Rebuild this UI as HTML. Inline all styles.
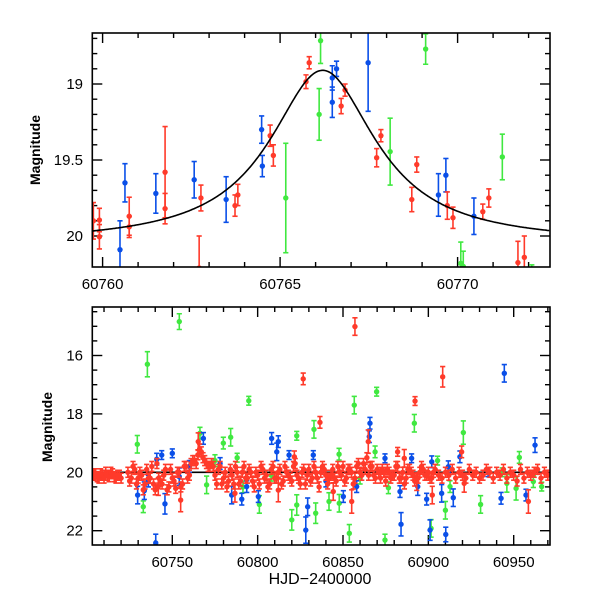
<!DOCTYPE html>
<html><head><meta charset="utf-8">
<style>
html,body{margin:0;padding:0;background:#fff;}
svg{display:block;font-family:"Liberation Sans",sans-serif;}
</style></head>
<body>
<svg id="chart" width="600" height="600" viewBox="0 0 600 600" xmlns="http://www.w3.org/2000/svg">
<defs>
<clipPath id="clipTop"><rect x="92.3" y="33" width="457.7" height="234"/></clipPath>
<clipPath id="clipBot"><rect x="92.3" y="307" width="457.7" height="238"/></clipPath>
</defs>
<g id="top"></g>
<g id="bot"></g>
</svg>
<script>
// ---------- TOP PANEL DATA ----------
const topBlueT=[60760.49,60760.63,60761.50,60762.58,60763.48,60764.48,60764.50,60766.47,60766.47,60766.59,60767.48,60769.46,60769.67,60770.46];
const topBlueM=[20.09,19.65,19.72,19.63,19.76,19.30,19.54,18.96,19.12,18.90,18.86,19.73,19.60,19.87];
const topBlueE=[0.19,0.126,0.13,0.12,0.15,0.09,0.07,0.08,0.1,0.05,0.32,0.14,0.11,0.12];
const topRedT=[60759.74,60759.91,60759.91,60760.75,60760.75,60761.76,60761.76,60762.72,60762.77,60763.73,60763.81,60764.72,60764.81,60765.73,60765.82,60766.72,60766.83,60767.72,60767.84,60768.71,60768.85,60769.71,60769.87,60770.71,60770.88,60771.70,60771.88];
const topRedM=[19.90,19.895,20.005,19.87,19.94,19.58,19.82,20.21,19.75,19.80,19.73,19.34,19.47,18.985,18.86,19.145,19.04,19.485,19.34,19.76,19.53,19.80,19.88,19.84,19.75,20.175,20.14];
const topRedE=[0.12,0.077,0.08,0.125,0.07,0.3,0.1,0.21,0.085,0.07,0.07,0.07,0.07,0.045,0.04,0.05,0.04,0.06,0.04,0.08,0.05,0.09,0.07,0.05,0.06,0.14,0.14];
const topGreenT=[60765.16,60766.10,60766.14,60768.10,60769.10,60770.09,60770.16,60771.26,60772.09];
const topGreenM=[19.75,19.20,18.715,19.445,18.77,20.18,20.20,19.48,20.22];
const topGreenE=[0.36,0.17,0.15,0.22,0.1,0.14,0.1,0.15,0.03];
const topXTicks=[60760,60765,60770];
const topYTicks=["19","19.5","20"];
// model fit parameters
const fitBase=20.05, fitAmp=1.14, fitT0=60766.2, fitW=1.82;

// ---------- BOTTOM PANEL DATA ----------
const botGreenT=[60754.1,60735.4,60794.8,60729.5,60784.2,60766.2,60779.9,60770.1,60733.0,60791.4,60775,60788,60856.6,60869.7,60822.9,60833.0,60820.0,60822.9,60834.0,60841.8,60847.8,60853.7,60874.6,60876.6,60801,60847.7,60868.8,60891.8,60920.5,60930.6,60910.0,60901.6,60912.7,60953.3,60951.4,60961.5,60966.4,60946.0,60905.4,60943.3,60860,60808];
const botGreenM=[14.84,16.30,17.55,19.04,18.80,18.66,19.0,20.43,21.18,20.5,19.6,19.5,17.70,17.24,18.75,18.53,21.63,21.12,21.40,21.0,21.06,22.09,22.32,20.53,21.1,19.38,19.3,18.32,18.64,21.1,21.3,21.92,20.49,19.49,20.55,20.32,20.49,20.38,19.6,20.0,20.2,20.1];
const botGreenE=[0.27,0.43,0.15,0.3,0.3,0.2,0.2,0.3,0.2,0.2,0.2,0.15,0.3,0.15,0.15,0.3,0.35,0.35,0.35,0.3,0.3,0.3,0.2,0.2,0.3,0.2,0.2,0.3,0.4,0.3,0.3,0.3,0.2,0.2,0.4,0.2,0.15,0.3,0.15,0.15,0.2,0.2];
const botBlueT=[60729.7,60733.6,60745.7,60740.3,60743.8,60750,60740.9,60768.2,60784.8,60790.7,60793.6,60754.1,60760,60778,60736,60808.2,60812.1,60811.2,60865.8,60865.4,60828.2,60829.3,60884.0,60883.4,60850.2,60858.0,60800.4,60818.4,60832.6,60874.6,60840,60944.5,60962.5,60901.0,60910.2,60899.0,60907.8,60914.6,60942.6,60957.2,60893.8,60918.5,60890.2,60911.7,60902.0,60935];
const botBlueM=[20.78,20.63,21.08,22.42,19.41,19.35,19.55,18.84,20.78,20.92,20.49,20.15,19.8,19.7,20.3,18.84,18.95,19.3,18.32,18.78,21.98,21.18,21.78,20.66,20.83,20.49,20.83,19.41,19.41,19.52,20.3,16.61,19.07,21.98,22.13,20.92,20.72,20.87,20.89,20.78,20.49,19.47,19.52,19.81,19.64,20.0];
const botBlueE=[0.3,0.3,0.35,0.3,0.15,0.15,0.2,0.2,0.3,0.2,0.2,0.3,0.2,0.2,0.2,0.2,0.2,0.3,0.2,0.2,0.45,0.3,0.4,0.2,0.2,0.2,0.2,0.15,0.15,0.15,0.2,0.3,0.25,0.35,0.25,0.2,0.3,0.3,0.2,0.2,0.3,0.2,0.15,0.2,0.2,0.15];
const botRedOutT=[60857.0,60826.7,60836.5,60882.0,60812.1,60855.1,60844.3,60864.8,60821.5,60908.4,60892.2,60885.9,60893.2,60902.3,60921.0,60958.6,60919.5,60754.9,60741.8,60786.7,60765.2];
const botRedOutM=[15.01,16.80,18.29,19.30,20.61,21.0,20.66,18.95,19.47,16.73,17.56,19.52,20.32,20.78,20.38,21.0,19.3,20.95,20.49,20.72,18.95];
const botRedOutE=[0.3,0.2,0.2,0.15,0.4,0.4,0.3,0.4,0.2,0.35,0.15,0.3,0.3,0.3,0.3,0.4,0.2,0.4,0.3,0.3,0.3];
const redEarlyT=[60704,60705,60706,60707,60708,60709,60710,60711,60712,60713,60714,60715,60716,60717,60718,60719,60720];
const redEarlyM=[20.1,20.05,20.15,20.2,20.05,20.1,20.2,20.0,20.1,20.15,20.0,20.05,20.15,20.2,20.1,20.1,20.2];
const redAT=[60724,60726,60728,60730,60732,60734,60736,60738,60740,60742,
60744,60746,60748,60750,60752,60754,60756,60758,60760,60762,
60764,60766,60768,60770,60772,60774,60776,60778,60780,60782,
60784,60786,60788,60790,60792,60794,60796,60798,60800,60802,
60804,60806,60808,60810,60812,60814,60816,60818,60820,60822,
60824,60826,60828,60830,60832,60834,60836,60838,60840,60842,
60844,60846,60848,60850,60852,60854,60856,60858,60860,60862,
60864,60866,60868,60870,60872,60874,60876,60878,60880,60882,
60884,60886,60888,60890,60892,60894,60896,60898,60900,60902,
60904,60906,60908,60910,60912,60914,60916,60918,60920,60922,
60924,60926,60928,60930,60932,60934,60936,60938,60940,60942,
60944,60946,60948,60950,60952,60954,60956,60958,60960,60962,
60964,60966,60968,60970];
const redAM=[20.0,20.2,19.9,20.2,20.1,20.4,20.2,19.8,20.6,20.2,
20.4,19.9,20.5,20.2,20.55,20.0,20.4,19.8,20.1,19.6,
19.7,19.2,19.5,19.7,19.8,19.8,20.4,19.8,20.2,20.5,
19.9,20.4,20.0,20.3,19.8,20.2,20.0,20.5,20.1,19.8,
20.2,20.5,19.9,20.2,20.0,20.4,19.8,20.1,20.3,19.7,
20.2,20.0,20.4,19.9,20.2,20.0,20.5,19.8,20.1,20.2,
19.9,20.3,20.0,19.8,20.2,19.9,20.4,19.8,20.0,19.7,
19.5,19.8,20.1,19.9,20.2,20.0,19.9,20.2,20.1,19.8,
20.2,20.4,19.9,20.0,20.3,20.2,19.8,20.1,20.0,20.2,
19.9,20.1,20.2,20.0,20.1,19.9,20.2,20.0,20.1,20.2,
19.9,20.1,20.0,20.2,20.1,19.9,20.0,20.2,20.0,20.1,
19.9,20.2,20.0,20.1,20.3,19.9,20.2,20.0,20.1,20.0,
19.9,20.2,20.0,20.1];
const redBT=[60725,60727,60729,60731,60733,60735,60737,60739,60741,60743,
60745,60747,60749,60751,60753,60755,60757,60759,60761,60763,
60765,60767,60769,60771,60773,60775,60777,60779,60781,60783,
60785,60787,60789,60791,60793,60795,60797,60799,60801,60803,
60805,60807,60809,60811,60813,60815,60817,60819,60821,60823,
60825,60827,60829,60831,60833,60835,60837,60839,60841,60843,
60845,60847,60849,60851,60853,60855,60857,60859,60861,60863,
60865,60867,60869,60871,60873,60875,60877,60879,60881,60883,
60885,60887,60889,60891,60893,60895,60897,60899,60901,60903];
const redBM=[20.3,19.8,20.4,20.0,20.6,19.9,20.2,20.4,19.7,20.3,
20.1,20.6,19.9,20.3,20.0,20.5,19.8,20.2,19.7,19.6,
19.4,19.3,19.6,19.8,19.7,20.1,19.9,20.4,20.0,20.3,
20.1,19.8,20.4,20.0,20.2,19.9,20.3,20.0,20.4,19.9,
20.1,20.4,19.8,20.2,19.9,20.3,20.0,20.2,19.8,20.1,
20.4,19.9,20.1,20.3,19.8,20.2,20.0,19.9,20.4,20.1,
20.2,19.8,20.1,20.3,19.9,20.0,20.2,19.7,20.1,19.9,
20.1,19.8,20.2,20.0,19.9,20.3,20.0,20.1,19.8,20.2,
20.0,20.2,19.9,20.1,20.2,20.0,19.9,20.1,20.2,20.0];
const botXTicks=[60750,60800,60850,60900,60950];
const botYTicks=[16,18,20,22];
const baseErr=0.17;

const NS="http://www.w3.org/2000/svg";
const COL={red:"#ff3a2a",blue:"#0a4fe8",green:"#40e840"};
function mk(tag,attrs,parent){const e=document.createElementNS(NS,tag);for(const k in attrs)e.setAttribute(k,attrs[k]);parent.appendChild(e);return e;}

// axis functions
const L=92.3,R=550;
const tx=d=>L+(d-60759.71)*35.5;
const ty=m=>84+(m-19)*152;
const bx=d=>172.3+(d-60750)*1.707;
const by=m=>472.3+(m-20)*29.2;

function drawPoints(g,T,M,E,xf,yf,color,name){
  for(let i=0;i<T.length;i++){
    const x=xf(T[i]),y=yf(M[i]),y1=yf(M[i]-E[i]),y2=yf(M[i]+E[i]);
    const p=mk('g',{},g);
    
    
    mk('line',{x1:x,x2:x,y1:y1,y2:y2,stroke:color,'stroke-width':1.6},p);
    mk('line',{x1:x-2.6,x2:x+2.6,y1:y1,y2:y1,stroke:color,'stroke-width':1.6},p);
    mk('line',{x1:x-2.6,x2:x+2.6,y1:y2,y2:y2,stroke:color,'stroke-width':1.6},p);
    mk('circle',{cx:x,cy:y,r:2.7,fill:color},p);
  }
}
function frame(g,top,bot,name){
  const r=mk('rect',{x:L,y:top,width:R-L,height:bot-top,fill:'none',stroke:'#000','stroke-width':1.6},g);
  
  
}
function tick(g,x1,y1,x2,y2){mk('line',{x1:x1,y1:y1,x2:x2,y2:y2,stroke:'#000','stroke-width':1.4},g);}
function label(g,x,y,txt,anchor,name,size,weight){
  const t=mk('text',{x:x,y:y,'text-anchor':anchor,'font-size':size||14,fill:'#000','font-weight':weight||'normal'},g);
  t.textContent=txt;
  
  
  return t;
}

// ---------- TOP ----------
const gT=document.getElementById('top');
const topT=33,topB=267;
for(let d=60760;d<=60772;d++){
  const x=tx(d),len=(d%5===0)?10:5;
  tick(gT,x,topB,x,topB-len);tick(gT,x,topT,x,topT+len);
}
for(let k=0;k<=13;k++){
  const m=18.7+k*0.1; const y=ty(m); if(y<topT||y>topB) continue;
  const major=Math.abs((m*2)-Math.round(m*2))<1e-6; const len=major?10:5;
  tick(gT,L,y,L+len,y);tick(gT,R,y,R-len,y);
}
topXTicks.forEach(d=>label(gT,tx(d),289,String(d),'middle','x-tick-label',15));
topYTicks.forEach(s=>label(gT,83,ty(parseFloat(s))+5,s,'end','y-tick-label',15));
const yt1=label(gT,0,0,'Magnitude','middle','y-axis-title',14,'bold');
yt1.setAttribute('transform','translate(40,150) rotate(-90)');
const cT=mk('g',{'clip-path':'url(#clipTop)'},gT);
drawPoints(cT,topGreenT,topGreenM,topGreenE,tx,ty,COL.green,'green-point');
drawPoints(cT,topBlueT,topBlueM,topBlueE,tx,ty,COL.blue,'blue-point');
drawPoints(cT,topRedT,topRedM,topRedE,tx,ty,COL.red,'red-point');
let pts=[];
for(let px=L;px<=R;px+=1){const d=60759.71+(px-L)/35.5;const u=(d-fitT0)/fitW;pts.push(px.toFixed(1)+','+ty(fitBase-fitAmp/(1+u*u)).toFixed(1));}
const fit=mk('polyline',{points:pts.join(' '),fill:'none',stroke:'#000','stroke-width':1.6},cT);


frame(gT,topT,topB,'top-plot-frame');

// ---------- BOTTOM ----------
const gB=document.getElementById('bot');
const botT=307,botB=545;
for(let d=60710;d<=60970;d+=10){
  const x=bx(d),len=(d%50===0)?10:5;
  tick(gB,x,botB,x,botB-len);tick(gB,x,botT,x,botT+len);
}
for(let m=14.5;m<=22.5;m+=0.5){
  const y=by(m); if(y<botT||y>botB) continue;
  const len=(m%2===0)?10:5;
  tick(gB,L,y,L+len,y);tick(gB,R,y,R-len,y);
}
botXTicks.forEach(d=>label(gB,bx(d),567,String(d),'middle','x-tick-label',15));
botYTicks.forEach(m=>label(gB,83,by(m)+5,String(m),'end','y-tick-label',15));
const yt2=label(gB,0,0,'Magnitude','middle','y-axis-title',14,'bold');
yt2.setAttribute('transform','translate(52,427) rotate(-90)');
label(gB,320,584,'HJD\u22122400000','middle','x-axis-title',16);
const cB=mk('g',{'clip-path':'url(#clipBot)'},gB);
const ref=mk('line',{x1:L,x2:R,y1:by(20),y2:by(20),stroke:'#000','stroke-width':1.6},cB);


drawPoints(cB,botGreenT,botGreenM,botGreenE,bx,by,COL.green,'green-point');
drawPoints(cB,botBlueT,botBlueM,botBlueE,bx,by,COL.blue,'blue-point');
drawPoints(cB,redEarlyT,redEarlyM,redEarlyT.map(()=>baseErr),bx,by,COL.red,'red-point');
drawPoints(cB,redAT,redAM,redAT.map(()=>baseErr),bx,by,COL.red,'red-point');
drawPoints(cB,redBT,redBM,redBT.map(()=>baseErr),bx,by,COL.red,'red-point');
drawPoints(cB,botRedOutT,botRedOutM,botRedOutE,bx,by,COL.red,'red-point');
frame(gB,botT,botB,'bottom-plot-frame');
</script>
</body></html>
